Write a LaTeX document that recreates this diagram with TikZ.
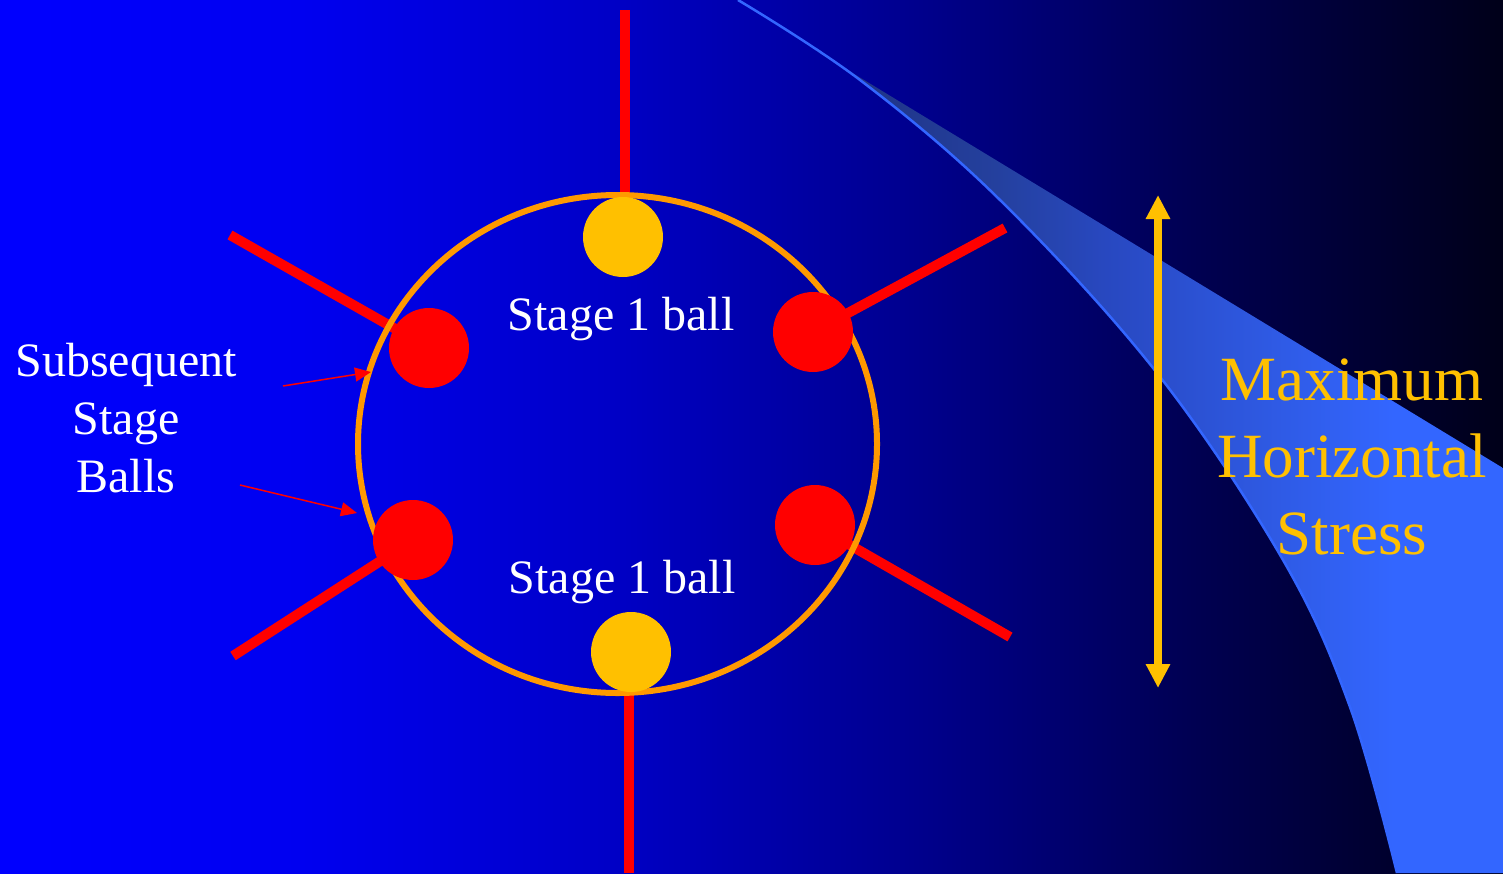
\documentclass[tikz,border=0pt]{standalone}
\usepackage{fontspec}
\setmainfont{Liberation Serif}
\usetikzlibrary{arrows.meta}
\definecolor{bgA}{RGB}{0,0,255}
\definecolor{bgB}{RGB}{0,0,240}
\definecolor{bgC}{RGB}{0,0,200}
\definecolor{bgD}{RGB}{0,0,144}
\definecolor{bgE}{RGB}{0,0,80}
\definecolor{bgF}{RGB}{0,0,25}
\definecolor{swA}{HTML}{1E3080}
\definecolor{swB}{HTML}{24409E}
\definecolor{swC}{HTML}{2848C0}
\definecolor{swD}{HTML}{2E58E0}
\definecolor{swE}{HTML}{3366FF}
\definecolor{ballyellow}{HTML}{FFC000}
\definecolor{ringorange}{HTML}{FF9900}
\definecolor{stressyellow}{HTML}{FFC000}
\pgfdeclarehorizontalshading{bgshade}{100bp}{color(0bp)=(bgA); color(25bp)=(bgA); color(35bp)=(bgB); color(45bp)=(bgC); color(55bp)=(bgD); color(65bp)=(bgE); color(75bp)=(bgF); color(100bp)=(bgF)}
\pgfdeclarehorizontalshading{bandshade}{100bp}{color(0bp)=(swA); color(25bp)=(swA); color(38bp)=(swB); color(46bp)=(swC); color(57bp)=(swD); color(67bp)=(swE); color(100bp)=(swE)}
\tikzset{
  redbar/.style={draw=red, line width=10pt},
  redball/.style={circle, fill=red, minimum size=80pt, inner sep=0pt},
  yellowball/.style={circle, fill=ballyellow, minimum size=80pt, inner sep=0pt},
  ring/.style={draw=ringorange, line width=6pt},
  whitelabel/.style={text=white, font=\fontsize{48}{58}\selectfont, align=center, inner sep=0pt},
  stresslabel/.style={text=stressyellow, font=\fontsize{63}{77}\selectfont, align=center, inner sep=0pt},
  pointer/.style={draw=red, line width=1.5pt, -{Triangle[width=14pt,length=16pt]}},
  stressarrow/.style={draw=stressyellow, line width=8pt, {Triangle[width=23pt,length=24pt]}-{Triangle[width=23pt,length=24pt]}},
  swooshline/.style={draw=swE, line width=2.5pt}
}
\begin{document}
\begin{tikzpicture}[x=1pt,y=-1pt]
\useasboundingbox (0,0) rectangle (1503,873);
% background
\shade[shading=bgshade] (0,0) rectangle (1503,873);
% swoosh band
\shade[shading=bandshade] plot[smooth, tension=0.6] coordinates {(818,52) (860,80) (1000,200) (1157,373) (1283,560) (1350,707) (1397,873)}
  -- (1503,873) -- (1503,468) -- cycle;
\draw[swooshline] plot[smooth, tension=0.6] coordinates {(738,0) (860,80) (1000,200) (1157,373) (1283,560) (1350,707) (1397,873)};
% ball positions
\coordinate (cTop) at (623,237);
\coordinate (cBot) at (631,652);
\coordinate (cUL) at (429,348);
\coordinate (cUR) at (813,332);
\coordinate (cLL) at (413,540);
\coordinate (cLR) at (815,525);
% outer ends of the red bars
\coordinate (eTop) at (625,10);
\coordinate (eBot) at (629,873);
\coordinate (eUL) at (230,235);
\coordinate (eUR) at (1005,228);
\coordinate (eLL) at (233,656);
\coordinate (eLR) at (1010,637);
% red bars
\draw[redbar] ([xshift=2pt]cTop) -- (eTop);
\draw[redbar] ([xshift=-2pt]cBot) -- (eBot);
\draw[redbar] (cUL) -- (eUL);
\draw[redbar] (cUR) -- (eUR);
\draw[redbar] (cLL) -- (eLL);
\draw[redbar] (cLR) -- (eLR);
% ring
\draw[ring] (617.5,444) ellipse [x radius=259.5, y radius=249];
% balls
\node[yellowball] (bTop) at (cTop) {};
\node[yellowball] (bBot) at (cBot) {};
\node[redball] (bUL) at (cUL) {};
\node[redball] (bUR) at (cUR) {};
\node[redball] (bLL) at (cLL) {};
\node[redball] (bLR) at (cLR) {};
% labels
\node[whitelabel, anchor=base] (sTop) at (621,330) {Stage 1 ball};
\node[whitelabel, anchor=base] (sBot) at (622,593) {Stage 1 ball};
\node[whitelabel, anchor=base] (subs) at (126,492) {Subsequent\\Stage\\Balls};
\node[stresslabel, anchor=base] (mhs) at (1352,554) {Maximum\\Horizontal\\Stress};
% pointers
\coordinate (p1s) at (283,386);
\coordinate (p1e) at (371,372);
\coordinate (p2s) at (240,485);
\coordinate (p2e) at (357,513);
\draw[pointer] (p1s) -- (p1e);
\draw[pointer] (p2s) -- (p2e);
% stress arrow
\coordinate (aTop) at (1158,195);
\coordinate (aBot) at (1158,688);
\draw[stressarrow] (aTop) -- (aBot);
\end{tikzpicture}
\end{document}
